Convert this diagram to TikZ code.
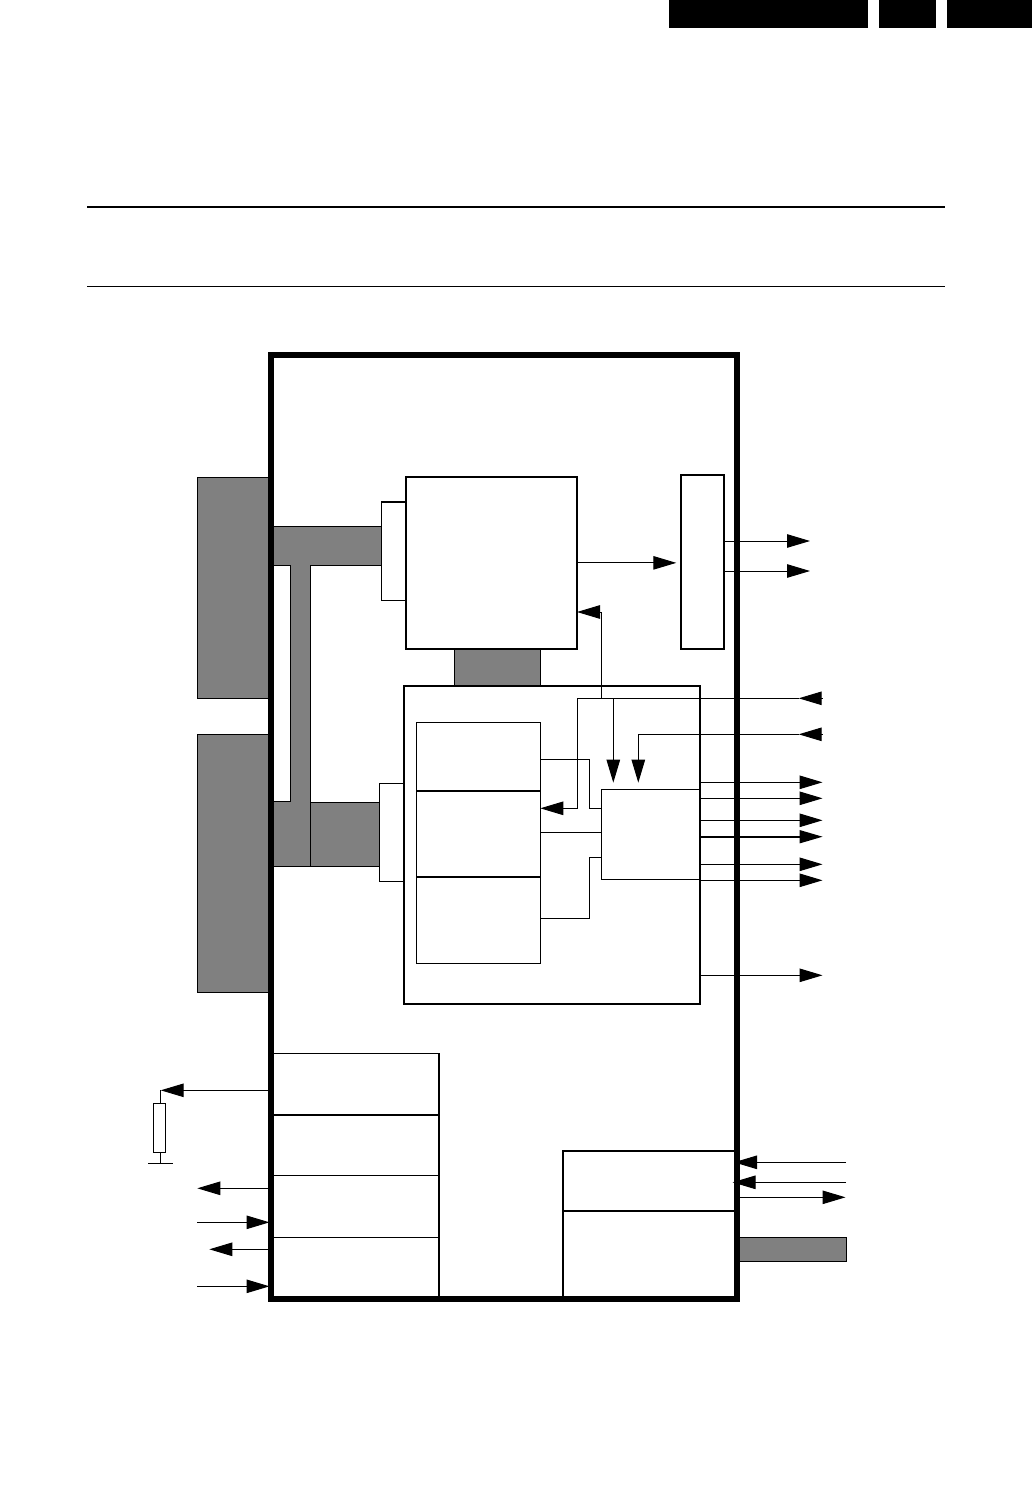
\documentclass[tikz,border=0pt]{standalone}
\usetikzlibrary{arrows.meta,calc}
\definecolor{busgray}{HTML}{808080}
\tikzset{
  base/.style={draw=black,inner sep=0pt,outer sep=0pt,line width=1pt},
  thin box/.style={base,fill=white},
  heavy box/.style={base,fill=white,line width=2pt},
  frame box/.style={base,line width=5.6pt},
  gray box/.style={base,fill=busgray},
  head box/.style={fill=black,inner sep=0pt,outer sep=0pt},
  wire/.style={line width=1pt,line join=miter},
  sig/.style={wire,-{Triangle[length=23pt,width=13.5pt]}},
  heavy sig/.style={sig,line width=2pt,-{Triangle[length=23pt,width=13.5pt,line width=0pt]}},
}
% name, style, x1, y1, x2, y2
\newcommand\placebox[6]{\node[#2,anchor=center,minimum width={(#5-#3)*1pt},minimum height={(#6-#4)*1pt}] (#1) at ({(#3+#5)/2},{(#4+#6)/2}) {};}
\begin{document}
\begin{tikzpicture}[x=1pt,y=-1pt]
\useasboundingbox (0,0) rectangle (1032,1489);
\fill[white] (0,0) rectangle (1032,1489);
% header
\placebox{hdA}{head box}{669}{0}{868}{28}
\placebox{hdB}{head box}{879}{0}{936}{28}
\placebox{hdC}{head box}{947}{0}{1032}{28}
\coordinate (ruleAl) at (87,207); \coordinate (ruleAr) at (945,207);
\coordinate (ruleBl) at (87,286.5); \coordinate (ruleBr) at (945,286.5);
\draw[line width=2pt] (ruleAl) -- (ruleAr);
\draw[line width=1pt] (ruleBl) -- (ruleBr);
% left grey blocks
\placebox{leftA}{gray box}{197.5}{477.5}{270}{698}
\placebox{leftB}{gray box}{197.5}{734.5}{270}{992}
% T-shaped bus
\draw[base,fill=busgray] (272,526.5) -- (381.3,526.5) -- (381.3,565.3) -- (310.3,565.3) -- (310.3,802.3) -- (379.3,802.3) -- (379.3,866.3) -- (272,866.3) -- (272,801.3) -- (290.7,801.3) -- (290.7,565.3) -- (272,565.3) -- cycle;
\draw[wire] (310.3,802.3) -- (310.3,866.3);
% grey buses
\placebox{busM}{gray box}{454.3}{645}{540.7}{686}
\placebox{busR}{gray box}{738}{1237.3}{846.7}{1261.3}
% top block
\placebox{tabA}{thin box}{381.3}{501.7}{405.7}{600.3}
\draw[line width=2pt] (381.3,501.7) -- (405.7,501.7);
\placebox{blkA}{heavy box}{405.8}{476.7}{577}{649}
\placebox{bar}{heavy box}{680.8}{475.3}{724.2}{649}
% lower block
\placebox{blkB}{heavy box}{403.7}{686}{700}{1004}
\placebox{tabB}{thin box}{379.3}{783.3}{403.7}{881.3}
\placebox{inA}{thin box}{416.3}{722.3}{540.3}{791}
\placebox{inB}{thin box}{416.3}{791}{540.3}{877}
\placebox{inC}{thin box}{416.3}{877}{540.3}{963.3}
\draw[line width=2pt] (inA.south west) -- (inA.south east);
\draw[line width=2pt] (inB.south west) -- (inB.south east);
\placebox{blkC}{thin box}{601.3}{789.3}{699.5}{879.3}
% bottom-left stack
\placebox{stA}{thin box}{273}{1053.3}{438.7}{1115}
\placebox{stB}{thin box}{273}{1115}{438.7}{1175.3}
\placebox{stC}{thin box}{273}{1175.3}{438.7}{1237.3}
\placebox{stD}{thin box}{273}{1237.3}{438.7}{1299}
\draw[line width=2pt] (stA.north east) -- (stD.south east);
\draw[line width=2pt] (stA.south west) -- (stA.south east);
% bottom-right stack
\placebox{srA}{heavy box}{562.7}{1150.7}{736}{1210.7}
\placebox{srB}{heavy box}{562.7}{1210.7}{736}{1299}
% outer frame
\placebox{frame}{frame box}{271}{354.7}{736.7}{1299}
% free ends
\coordinate (oa) at (810,541);
\coordinate (ob) at (810,571);
\coordinate (ic) at (822.7,698.3);
\coordinate (id) at (822.7,734.3);
\coordinate (icx) at (798.7,698.3);
\coordinate (idx) at (798.7,734.3);
\coordinate (oc1) at (822.5,782.3);
\coordinate (oc2) at (822.5,798.3);
\coordinate (oc3) at (822.5,820.3);
\coordinate (oc4) at (822.5,836.7);
\coordinate (oc5) at (822.5,864.3);
\coordinate (oc6) at (822.5,880.3);
\coordinate (oc7) at (822.5,975.3);
\coordinate (jn) at (601.3,698.3);
\coordinate (jl) at (577.7,698.3);
\coordinate (jb) at (577.7,808.3);
\coordinate (jm) at (613.3,698.3);
\coordinate (jt) at (601.3,612);
\coordinate (tipM) at (613.3,782.7);
\coordinate (tipN) at (638.3,782.7);
\coordinate (rtop) at (160.7,1090.3);
% connectors
\draw[sig,shorten >=4.5pt] (blkA.east) -- (blkA.east -| bar.west);
\draw[sig] (bar.east |- oa) -- (oa);
\draw[sig] (bar.east |- ob) -- (ob);
\draw[sig] (ic) -- (icx);
\draw[sig] (id) -- (idx);
\draw[wire] (icx) -- (jl);
\draw[sig] (jl) -- (jb) -- (inB.east |- jb);
\draw[sig] (jn) -- (jt) -- (blkA.east |- jt);
\draw[sig] (jm) -- (tipM);
\draw[sig] (idx) -- (tipN |- idx) -- (tipN);
\draw[wire] (inA.east |- 0,759.3) -- (589.7,759.3) -- (589.7,808.3) -- (blkC.west |- 0,808.3);
\draw[wire] (inB.east |- 0,832.3) -- (blkC.west |- 0,832.3);
\draw[wire] (inC.east |- 0,918.3) -- (589.7,918.3) -- (589.7,857.3) -- (blkC.west |- 0,857.3);
\draw[sig] (blkB.east |- oc1) -- (oc1);
\draw[sig] (blkB.east |- oc2) -- (oc2);
\draw[sig] (blkB.east |- oc3) -- (oc3);
\draw[heavy sig] (blkB.east |- oc4) -- (oc4);
\draw[sig] (blkB.east |- oc5) -- (oc5);
\draw[sig] (blkB.east |- oc6) -- (oc6);
\draw[sig] (blkB.east |- oc7) -- (oc7);
% bottom-left signals and resistor
\draw[sig] (frame.west |- rtop) -- (rtop);
\placebox{res}{thin box}{153.3}{1103.3}{165.7}{1152.3}
\coordinate (gnd) at (160.7,1163.3);
\coordinate (gl) at (148,1163.3);
\coordinate (gr) at (173,1163.3);
\draw[wire] (rtop) -- (rtop |- res.north);
\draw[wire] (res.south -| rtop) -- (gnd);
\draw[wire] (gl) -- (gr);
\coordinate (la) at (197.3,1188.3);
\coordinate (lb) at (197,1222.3);
\coordinate (lc) at (209.3,1249.3);
\coordinate (ld) at (197,1286.3);
\draw[sig] (frame.west |- la) -- (la);
\draw[sig,shorten >=1.5pt] (lb) -- (frame.west |- lb);
\draw[sig] (frame.west |- lc) -- (lc);
\draw[sig,shorten >=1.5pt] (ld) -- (frame.west |- ld);
% bottom-right signals
\coordinate (ra) at (846,1162.3);
\coordinate (rb) at (846,1182.3);
\coordinate (rc) at (845.5,1197.3);
\draw[sig,shorten >=-2.7pt] (ra) -- (frame.east |- ra);
\draw[sig,shorten >=-4.2pt] (rb) -- (frame.east |- rb);
\draw[sig] (frame.east |- rc) -- (rc);
\end{tikzpicture}
\end{document}
